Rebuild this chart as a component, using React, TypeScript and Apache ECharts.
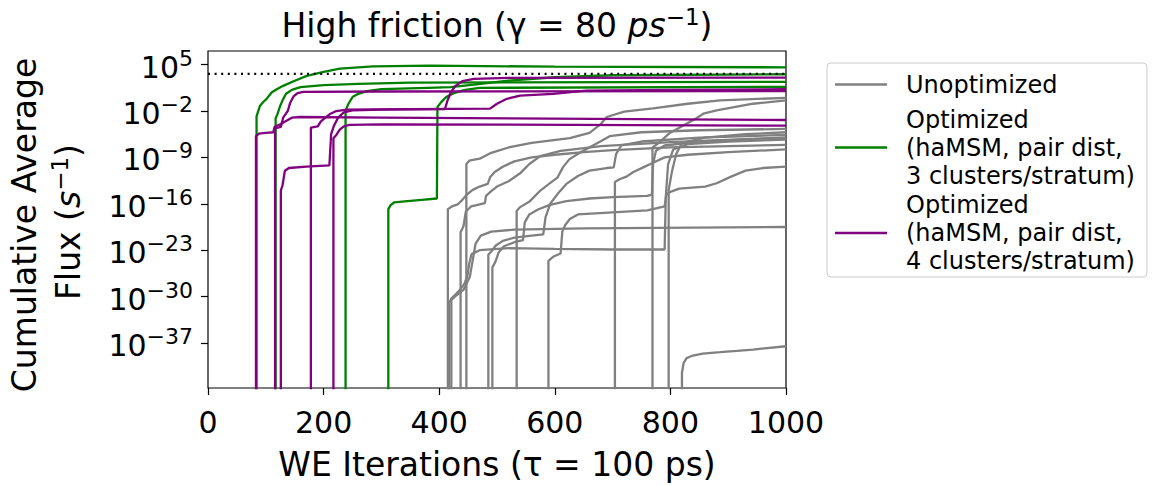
import React, { useEffect, useRef } from 'react';
import * as echarts from 'echarts';

const FONT = "'DejaVu Sans', sans-serif";
// log10 of the flux before the first arrival (zero flux): far below the axis, so it is clipped
const ZERO = -60;

// Each curve: [WE iteration, log10(cumulative average flux / s^-1)]
// --- Unoptimized runs ---
const unopt417 = [[417, ZERO], [417, -31], [421, -30.3], [428, -29.7], [436, -29], [444, -28], [449, -26.8], [452, -25], [456, -23.6], [470, -23], [520, -22.7], [600, -22.8], [700, -22.9], [790, -22.9], [792, -15], [796, -10], [805, -7.8], [830, -7], [900, -6.6], [1000, -6.3]];
const unopt421 = [[421, ZERO], [421, -30.5], [430, -29.8], [442, -29], [453, -27], [458, -24.5], [463, -22], [472, -20.8], [490, -20.2], [530, -19.9], [650, -19.7], [1000, -19.5]];
const unopt415 = [[415, ZERO], [415, -16.8], [422, -16.4], [432, -16.1], [440, -15.4], [448, -14.6], [458, -13.9], [470, -13.4], [484, -13.0], [488, -12.0], [496, -11.2], [510, -10.4], [530, -9.6], [560, -9.0], [600, -8.6], [650, -8.2], [700, -7.9], [800, -7.5], [900, -7.3], [1000, -7.1]];
const unopt437 = [[437, ZERO], [437, -20.3], [442, -19.4], [446, -17.2], [455, -16.4], [470, -16.1], [479, -15.9], [481, -14.8], [490, -14.1], [500, -13.4], [520, -12.6], [540, -11.4], [556, -10], [575, -8.8], [610, -8.0], [680, -7.3], [800, -6.7], [1000, -6.0]];
const unopt447 = [[447, ZERO], [447, -10], [452, -9.5], [470, -9.2], [490, -8.3], [520, -7.5], [560, -6.8], [626, -6.1], [660, -5.3], [678, -4.1], [690, -2.9], [720, -2.1], [770, -1.6], [830, -0.9], [886, -0.4], [1000, 0.0]];
const unopt485 = [[485, ZERO], [485, -23.7], [490, -23.2], [498, -22.3], [510, -21.6], [530, -21.1], [560, -20.8], [580, -20.6], [584, -18], [592, -16], [605, -14.5], [620, -13], [640, -11.8], [660, -11.0], [690, -10.6], [702, -10.5], [706, -8.5], [715, -7.2], [750, -6.6], [850, -6.0], [1000, -5.6]];
const unopt492 = [[492, ZERO], [492, -25.6], [497, -24.8], [503, -23.3], [512, -22.4], [530, -21.8], [545, -21.5], [548, -18.8], [556, -17.6], [570, -16.9], [590, -16.2], [620, -15.6], [660, -15.2], [700, -15.0], [760, -14.8], [768, -14.6], [770, -10], [775, -8], [790, -7.2], [850, -6.6], [1000, -6.0]];
const unopt534 = [[534, ZERO], [534, -17.1], [540, -16.5], [557, -15.6], [575, -14], [590, -13], [605, -12], [614, -10.5], [625, -9.3], [643, -8.3], [670, -7], [695, -5.8], [750, -5.2], [850, -4.9], [1000, -4.7]];
const unopt589 = [[589, ZERO], [589, -24.6], [597, -24.0], [610, -23.5], [613, -20.2], [618, -19.2], [626, -18.3], [640, -17.6], [700, -17.3], [760, -17.0], [790, -16.4], [793, -14.6], [800, -14.2], [815, -13.7], [860, -13.4], [880, -12.9], [905, -11.9], [930, -11], [960, -10.6], [1000, -10.4]];
const unopt704 = [[704, ZERO], [704, -12.7], [712, -12.3], [724, -11.9], [736, -11.2], [753, -10.5], [770, -9.8], [790, -9.0], [830, -8.6], [900, -8.2], [1000, -7.8]];
const unopt769 = [[769, ZERO], [769, -7.5], [780, -6.8], [799, -5.3], [820, -4.3], [845, -3.1], [857, -2.4], [880, -1.9], [943, -0.9], [1000, -0.4]];
const unopt797 = [[797, ZERO], [797, -13.9], [803, -11], [810, -8.5], [820, -6.8], [860, -6.0], [930, -5.5], [1000, -5.2]];
const unopt820 = [[820, ZERO], [820, -41.5], [823, -40], [828, -39.3], [839, -38.9], [856, -38.6], [886, -38.4], [915, -38.2], [943, -38.0], [1000, -37.5]];

// --- Optimized, 3 clusters/stratum ---
const opt3a = [[84, ZERO], [84, -2.8], [90, -1.2], [96, -0.6], [101, -0.2], [110, 0.8], [119, 1.3], [130, 1.8], [148, 2.5], [171, 3.3], [200, 3.9], [228, 4.4], [286, 4.75], [384, 4.85], [600, 4.7], [1000, 4.6]];
const opt3b = [[117, ZERO], [117, -3.1], [120, -2.5], [125, -1.2], [130, -0.2], [135, 0.6], [145, 1.2], [160, 1.6], [200, 1.9], [260, 2.1], [350, 2.3], [1000, 2.4]];
const opt3c = [[238, ZERO], [238, -1.9], [243, -0.9], [250, 0.1], [260, 0.6], [275, 1.0], [300, 1.3], [380, 1.5], [420, 1.6], [460, 2.0], [520, 2.6], [600, 3.1], [700, 3.4], [1000, 3.55]];
const opt3d = [[312, ZERO], [312, -16.8], [316, -16.2], [322, -15.8], [345, -15.6], [370, -15.4], [396, -15.2], [397, -1.4], [403, -0.7], [412, 0.1], [425, 0.7], [445, 1.2], [470, 1.5], [1000, 1.65]];

// --- Optimized, 4 clusters/stratum ---
const opt4a = [[83, ZERO], [83, -5.8], [88, -5.4], [100, -5.3], [113, -5.2], [115, -4.4], [125, -4.0], [135, -3.5], [145, -3.0], [160, -2.9], [300, -3.0], [1000, -3.35]];
const opt4b = [[116, ZERO], [116, -4.6], [126, -4.4], [130, -3.0], [138, -2.0], [142, -0.8], [148, 0.2], [155, 0.7], [165, 0.9], [300, 0.95], [1000, 1.0]];
const opt4c = [[126, ZERO], [126, -14], [129, -13.2], [133, -11], [140, -10.6], [170, -10.4], [210, -10.2], [213, -5.5], [218, -4.2], [225, -3.0], [235, -2.2], [250, -1.9], [300, -1.8], [410, -1.7], [414, -0.5], [420, 0.8], [428, 1.8], [440, 2.5], [460, 2.85], [520, 3.0], [1000, 3.05]];
const opt4d = [[178, ZERO], [178, -4.5], [190, -4.3], [195, -3.6], [203, -3.0], [212, -2.4], [222, -2.0], [240, -1.8], [350, -1.7], [488, -1.63], [500, -0.9], [517, -0.16], [540, 0.33], [597, 0.58], [655, 1.07], [800, 1.2], [1000, 1.3]];
const opt4e = [[217, ZERO], [217, -6.1], [222, -5.6], [228, -4.8], [235, -4.3], [245, -4.1], [300, -4.0], [1000, -4.2]];

// Reference level (dotted line), log10 flux
const targetLogFlux = 3.6;

// Axes
const yTickExponents = [5, -2, -9, -16, -23, -30, -37];
const yMin = -43.8;
const yMax = 7.06;
const xMin = 0;
const xMax = 1000;
const xStep = 200;

const NAME_UNOPT = 'Unoptimized';
const NAME_OPT3 = 'Optimized\n(haMSM, pair dist,\n3 clusters/stratum)';
const NAME_OPT4 = 'Optimized\n(haMSM, pair dist,\n4 clusters/stratum)';

const GREY = '#808080';
const GREEN = '#008000';
const PURPLE = '#800080';

const unoptRuns = [unopt417, unopt421, unopt415, unopt437, unopt447, unopt485, unopt492, unopt534, unopt589, unopt704, unopt769, unopt797, unopt820];
const opt3Runs = [opt3a, opt3b, opt3c, opt3d];
const opt4Runs = [opt4a, opt4b, opt4c, opt4d, opt4e];

const sup = (n: number) => (n < 0 ? '\u2212' + Math.abs(n) : String(n));

function lineSeries(name: string, color: string, data: number[][], z: number) {
  return {
    type: 'line',
    name,
    data,
    symbol: 'none',
    showSymbol: false,
    silent: true,
    clip: true,
    z,
    lineStyle: { color, width: 2.3 },
    itemStyle: { color },
    emphasis: { disabled: true },
  };
}

const legendText = {
  fontSize: 24,
  lineHeight: 28,
  color: '#000',
  fontFamily: FONT,
  padding: [0, 0, 0, 14],
};

export default function App() {
  const ref = useRef<HTMLDivElement>(null);

  useEffect(() => {
    if (!ref.current) return;
    const chart = echarts.init(ref.current, undefined, { renderer: 'svg' });

    const series: any[] = [];
    unoptRuns.forEach((d) => series.push(lineSeries(NAME_UNOPT, GREY, d, 2)));
    opt3Runs.forEach((d) => series.push(lineSeries(NAME_OPT3, GREEN, d, 3)));
    opt4Runs.forEach((d) => series.push(lineSeries(NAME_OPT4, PURPLE, d, 4)));
    series.push({
      type: 'line',
      name: 'target',
      data: [[xMin, targetLogFlux], [xMax, targetLogFlux]],
      symbol: 'none',
      silent: true,
      z: 5,
      lineStyle: { color: '#000', width: 2.2, type: [2, 4.6] },
    });

    chart.setOption({
      animation: false,
      backgroundColor: '#fff',
      textStyle: { fontFamily: FONT },
      grid: {
        left: 208,
        top: 51,
        width: 578,
        height: 345,
        show: true,
        borderColor: '#000',
        borderWidth: 1.2,
        backgroundColor: 'transparent',
        containLabel: false,
      },
      xAxis: {
        type: 'value',
        min: xMin,
        max: xMax,
        interval: xStep,
        axisLine: { show: false, onZero: false },
        splitLine: { show: false },
        axisTick: { show: true, inside: false, length: 7, lineStyle: { color: '#000', width: 1.2 } },
        axisLabel: {
          fontSize: 30,
          color: '#000',
          margin: 19,
          fontFamily: FONT,
          formatter: (v: number) => String(v),
        },
        name: 'WE Iterations (\u03c4 = 100 ps)',
        nameLocation: 'middle',
        nameGap: 60,
        nameTextStyle: { fontSize: 33, color: '#000', fontFamily: FONT },
      },
      yAxis: {
        type: 'value',
        min: yMin,
        max: yMax,
        axisLine: { show: false, onZero: false },
        splitLine: { show: false },
        axisTick: {
          show: true,
          inside: false,
          length: 7,
          customValues: yTickExponents,
          lineStyle: { color: '#000', width: 1.2 },
        },
        axisLabel: {
          customValues: yTickExponents,
          margin: 15,
          color: '#000',
          formatter: (v: number) => `{b|10}{s|${sup(Math.round(v))}}`,
          rich: {
            b: { fontSize: 30, fontFamily: FONT, color: '#000', padding: [5, 0, 0, 0] },
            s: { fontSize: 22, fontFamily: FONT, color: '#000', padding: [0, 0, 13, 0] },
          },
        },
      },
      legend: {
        show: true,
        data: [
          { name: NAME_UNOPT, textStyle: { ...legendText, padding: [5, 0, 6, 14] } },
          { name: NAME_OPT3 },
          { name: NAME_OPT4 },
        ],
        orient: 'vertical',
        left: 827,
        top: 63,
        padding: [2, 12, 2, 8],
        itemGap: 1.5,
        itemWidth: 52,
        itemHeight: 2.5,
        icon: 'rect',
        borderColor: '#cccccc',
        borderWidth: 1,
        borderRadius: 4,
        backgroundColor: '#fff',
        selectedMode: false,
        textStyle: legendText,
      },
      graphic: [
        {
          type: 'text',
          x: 497,
          y: 25,
          silent: true,
          style: {
            text: '{a|High friction (\u03b3 = 80 }{i|ps}{s|\u22121}{a|)}',
            align: 'center',
            verticalAlign: 'middle',
            fill: '#000',
            rich: {
              a: { fontSize: 33, fontFamily: FONT, fill: '#000' },
              i: { fontSize: 33, fontFamily: FONT, fontStyle: 'italic', fill: '#000' },
              s: { fontSize: 23, fontFamily: FONT, fill: '#000', padding: [0, 0, 16, 0] },
            },
          },
        },
        {
          type: 'text',
          x: 24,
          y: 225,
          rotation: Math.PI / 2,
          silent: true,
          style: {
            text: 'Cumulative Average',
            fontSize: 33,
            fontFamily: FONT,
            align: 'center',
            verticalAlign: 'middle',
            fill: '#000',
          },
        },
        {
          type: 'text',
          x: 68,
          y: 222,
          rotation: Math.PI / 2,
          silent: true,
          style: {
            text: '{a|Flux (}{i|s}{s|\u22121}{a|)}',
            align: 'center',
            verticalAlign: 'middle',
            fill: '#000',
            rich: {
              a: { fontSize: 33, fontFamily: FONT, fill: '#000' },
              i: { fontSize: 33, fontFamily: FONT, fontStyle: 'italic', fill: '#000' },
              s: { fontSize: 23, fontFamily: FONT, fill: '#000', padding: [0, 0, 16, 0] },
            },
          },
        },
      ],
      series,
    });

    return () => {
      chart.dispose();
    };
  }, []);

  return (
    <div
      ref={ref}
      style={{ position: 'fixed', left: 0, top: 0, width: 1155, height: 486 }}
    />
  );
}
